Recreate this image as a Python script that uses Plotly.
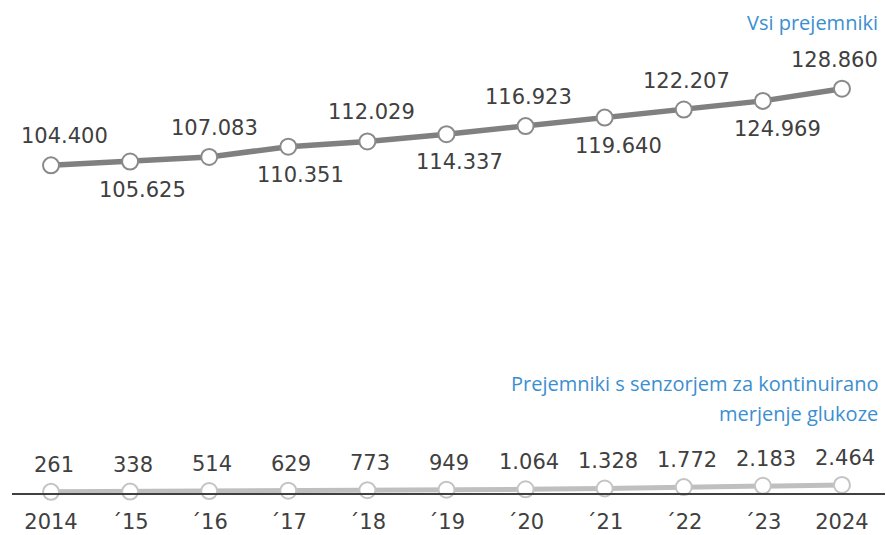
import plotly.graph_objects as go

years = ["2014", "´15", "´16", "´17", "´18", "´19", "´20", "´21", "´22", "´23", "2024"]
vsi_prejemniki = [104400, 105625, 107083, 110351, 112029, 114337, 116923, 119640, 122207, 124969, 128860]
senzor_prejemniki = [261, 338, 514, 629, 773, 949, 1064, 1328, 1772, 2183, 2464]
top_label_above = [True, False] * 5 + [True]
# horizontal nudges of the data labels (px), as placed in the original
top_label_dx = [13, 12, 5, 12, 4, 13, 3, 14, 3, 15, -7]

def fmt(v):
    return f"{v:,}".replace(",", ".")

x = list(range(len(years)))
label_font = dict(family="DejaVu Sans", size=21, color="#404040")

fig = go.Figure()
fig.add_trace(go.Scatter(
    x=x, y=vsi_prejemniki, mode="lines+markers",
    line=dict(color="#808080", width=5.5),
    marker=dict(size=16, color="white", line=dict(color="#8a8a8a", width=2)),
    cliponaxis=False, showlegend=False, hoverinfo="skip"))
fig.add_trace(go.Scatter(
    x=x, y=senzor_prejemniki, mode="lines+markers",
    line=dict(color="#bfbfbf", width=5),
    marker=dict(size=16, color="white", line=dict(color="#c4c4c4", width=2)),
    cliponaxis=False, showlegend=False, hoverinfo="skip"))

annotations = []
for xi, v, above, dx in zip(x, vsi_prejemniki, top_label_above, top_label_dx):
    annotations.append(dict(x=xi, y=v, text=fmt(v), showarrow=False, font=label_font,
                            xanchor="center", yanchor="middle", xshift=dx,
                            yshift=29 if above else -28))
for xi, v in zip(x, senzor_prejemniki):
    annotations.append(dict(x=xi, y=v, text=fmt(v), showarrow=False, font=label_font,
                            xanchor="center", yanchor="middle", xshift=3, yshift=27))

blue = "#3b8fd0"
ann_font = dict(family="Open Sans", size=20, color=blue)
annotations += [
    dict(text="Vsi prejemniki", xref="paper", yref="paper", x=1, y=0.9777,
         xanchor="right", yanchor="middle", xshift=-5, showarrow=False, font=ann_font),
    dict(text="Prejemniki s senzorjem za kontinuirano", xref="paper", yref="paper", x=1, y=0.2277,
         xanchor="right", yanchor="middle", xshift=-5, showarrow=False, font=ann_font),
    dict(text="merjenje glukoze", xref="paper", yref="paper", x=1, y=0.1656,
         xanchor="right", yanchor="middle", xshift=-5, showarrow=False, font=ann_font),
]

fig.update_layout(
    width=886, height=535,
    margin=dict(l=12, r=1, t=12, b=40),
    plot_bgcolor="white", paper_bgcolor="white",
    xaxis=dict(range=[-0.493, 10.544], tickmode="array", tickvals=x, ticktext=years,
               showline=True, linecolor="#404040", linewidth=1.5, showgrid=False,
               zeroline=False, ticks="outside", ticklen=9, tickcolor="rgba(0,0,0,0)",
               tickfont=label_font),
    yaxis=dict(range=[-111, 153320], visible=False, showgrid=False, zeroline=False),
    annotations=annotations,
)
fig.write_html("out.html", config={"displayModeBar": False},
               post_script="document.body.style.margin='0';document.body.style.overflow='hidden';")
